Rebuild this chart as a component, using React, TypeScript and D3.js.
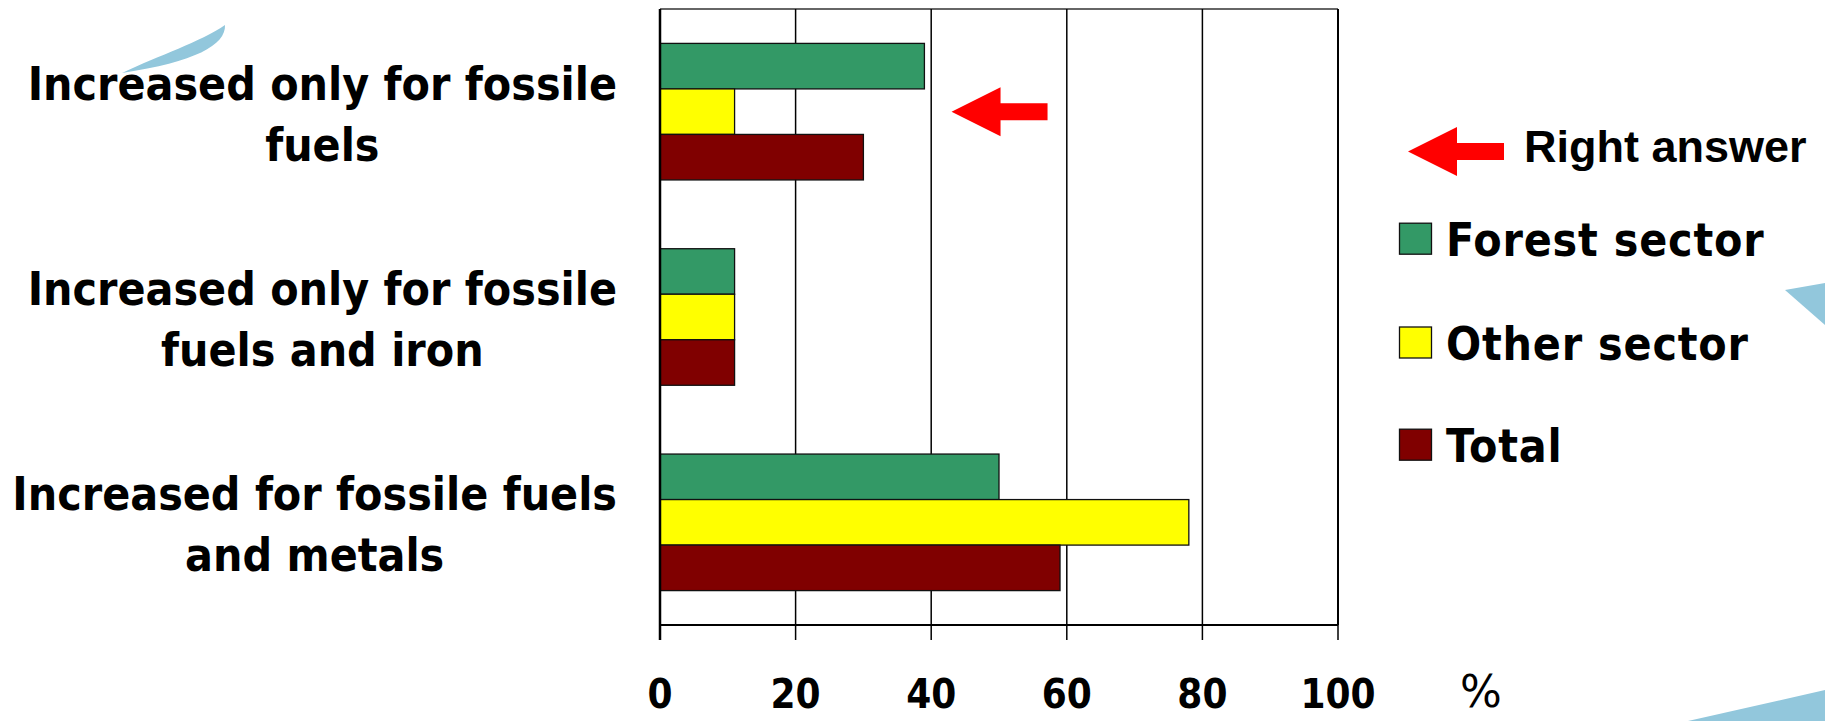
import React, { useEffect, useRef } from "react";
import * as d3 from "d3";

const categoryLines: string[][] = [
  ["Increased only for fossile", "fuels"],
  ["Increased only for fossile", "fuels and iron"],
  ["Increased for fossile fuels", "and metals"],
];
const categories = categoryLines.map((l) => l.join(" "));
const seriesNames = ["Forest sector", "Other sector", "Total"];
const forestValues = [39, 11, 50];
const otherValues = [11, 11, 78];
const totalValues = [30, 11, 59];
const seriesColors = ["#339966", "#FFFF00", "#800000"];
const xTicks = [0, 20, 40, 60, 80, 100];
const rightAnswerIndex = 0;
const rightAnswerValue = 43;
const rightAnswerLabel = "Right answer";
const unitLabel = "%";

const W = 1825;
const H = 721;
const LABEL_FONT = "'DejaVu Sans Condensed', 'DejaVu Sans', sans-serif";

export default function App() {
  const ref = useRef<SVGSVGElement>(null);

  useEffect(() => {
    const svg = d3.select(ref.current);
    svg.selectAll("*").remove();

    const plot = { left: 660, right: 1338, top: 9, bottom: 625 };
    const x = d3.scaleLinear().domain([0, 100]).range([plot.left, plot.right]);
    const y0 = d3
      .scaleBand<string>()
      .domain(categories)
      .range([plot.top, plot.bottom])
      .paddingInner(0.335)
      .paddingOuter(0.1675);
    const y1 = d3.scaleBand<string>().domain(seriesNames).range([0, y0.bandwidth()]);
    const seriesValues = [forestValues, otherValues, totalValues];

    // background decorations
    const deco = svg.append("g").attr("fill", "#92C7DC");
    deco.append("path").attr("d", "M122,73 C160,55 200,42 225,25 C226,45 195,62 122,73 Z");
    deco.append("path").attr("d", "M1785,290 L1825,283 L1825,325 Z");
    deco.append("path").attr("d", "M1688,721 L1825,690 L1825,721 Z");

    // plot top border
    svg
      .append("line")
      .attr("x1", plot.left)
      .attr("x2", plot.right)
      .attr("y1", plot.top)
      .attr("y2", plot.top)
      .attr("stroke", "#333")
      .attr("stroke-width", 1.5);

    // vertical gridlines
    svg
      .append("g")
      .selectAll("line")
      .data(xTicks.slice(1))
      .join("line")
      .attr("x1", (d) => x(d))
      .attr("x2", (d) => x(d))
      .attr("y1", plot.top)
      .attr("y2", plot.bottom)
      .attr("stroke", "#000")
      .attr("stroke-width", (d) => (d === 100 ? 2 : 1.5));

    // bars
    const groups = svg
      .append("g")
      .selectAll("g")
      .data(categories)
      .join("g")
      .attr("transform", (c) => `translate(0,${y0(c)})`);
    groups
      .selectAll("rect")
      .data((c, i) => seriesNames.map((s, k) => ({ s, k, v: seriesValues[k][i] })))
      .join("rect")
      .attr("x", x(0))
      .attr("y", (d) => y1(d.s)!)
      .attr("width", (d) => x(d.v) - x(0))
      .attr("height", y1.bandwidth())
      .attr("fill", (d) => seriesColors[d.k])
      .attr("stroke", "#111")
      .attr("stroke-width", 1.3);

    // axes lines
    svg
      .append("line")
      .attr("x1", plot.left)
      .attr("x2", plot.right)
      .attr("y1", plot.bottom)
      .attr("y2", plot.bottom)
      .attr("stroke", "#000")
      .attr("stroke-width", 2);
    svg
      .append("line")
      .attr("x1", plot.left)
      .attr("x2", plot.left)
      .attr("y1", plot.top)
      .attr("y2", plot.bottom + 15)
      .attr("stroke", "#000")
      .attr("stroke-width", 2.5);
    svg
      .append("g")
      .selectAll("line")
      .data(xTicks.slice(1))
      .join("line")
      .attr("x1", (d) => x(d))
      .attr("x2", (d) => x(d))
      .attr("y1", plot.bottom)
      .attr("y2", plot.bottom + 15)
      .attr("stroke", "#000")
      .attr("stroke-width", 1.5);

    // tick labels
    svg
      .append("g")
      .selectAll("text")
      .data(xTicks)
      .join("text")
      .attr("x", (d) => x(d))
      .attr("y", 708)
      .attr("text-anchor", "middle")
      .attr("font-family", LABEL_FONT)
      .attr("font-weight", "bold")
      .attr("font-size", 40)
      .text((d) => String(d));

    svg
      .append("text")
      .attr("x", 1481)
      .attr("y", 707)
      .attr("text-anchor", "middle")
      .attr("font-family", "'DejaVu Sans', sans-serif")
      .attr("font-size", 44)
      .text(unitLabel);

    // category labels (centered block, right aligned)
    const labelRight = 617;
    categories.forEach((c, i) => {
      const cy = y0(c)! + y0.bandwidth() / 2;
      const g = svg.append("g");
      const texts = categoryLines[i].map((line, j) =>
        g
          .append("text")
          .attr("y", cy + (j === 0 ? -12 : 49))
          .attr("text-anchor", "middle")
          .attr("font-family", LABEL_FONT)
          .attr("font-weight", "bold")
          .attr("font-size", 46)
          .text(line)
      );
      const maxW = d3.max(texts, (t) => (t.node() as SVGTextElement).getComputedTextLength()) || 0;
      texts.forEach((t) => t.attr("x", labelRight - maxW / 2));
    });

    // arrow helper
    const arrow = (tipX: number, cy: number) =>
      `M${tipX},${cy} L${tipX + 49},${cy - 24.5} L${tipX + 49},${cy - 8.5} L${tipX + 96},${cy - 8.5} L${tipX + 96},${cy + 8.5} L${tipX + 49},${cy + 8.5} L${tipX + 49},${cy + 24.5} Z`;

    const ansCy = y0(categories[rightAnswerIndex])! + y0.bandwidth() / 2;
    svg.append("path").attr("d", arrow(x(rightAnswerValue), ansCy)).attr("fill", "#FF0000");

    // legend
    svg.append("path").attr("d", arrow(1408, 151.5)).attr("fill", "#FF0000");
    svg
      .append("text")
      .attr("x", 1524)
      .attr("y", 162)
      .attr("font-family", "'Liberation Sans', Arial, sans-serif")
      .attr("font-weight", "bold")
      .attr("font-size", 45)
      .text(rightAnswerLabel);

    const legendRows = [238.7, 342.5, 444.7];
    seriesNames.forEach((s, k) => {
      const cy = legendRows[k];
      svg
        .append("rect")
        .attr("x", 1399.5)
        .attr("y", cy - 15.5)
        .attr("width", 32)
        .attr("height", 31)
        .attr("fill", seriesColors[k])
        .attr("stroke", "#111")
        .attr("stroke-width", 1.3);
      svg
        .append("text")
        .attr("x", 1446)
        .attr("y", cy + 17.3)
        .attr("font-family", LABEL_FONT)
        .attr("font-weight", "bold")
        .attr("font-size", 46)
        .attr("letter-spacing", 0.8)
        .text(s);
    });
  }, []);

  return (
    <svg
      ref={ref}
      width={W}
      height={H}
      style={{ position: "absolute", left: 0, top: 0, background: "#fff" }}
    />
  );
}
